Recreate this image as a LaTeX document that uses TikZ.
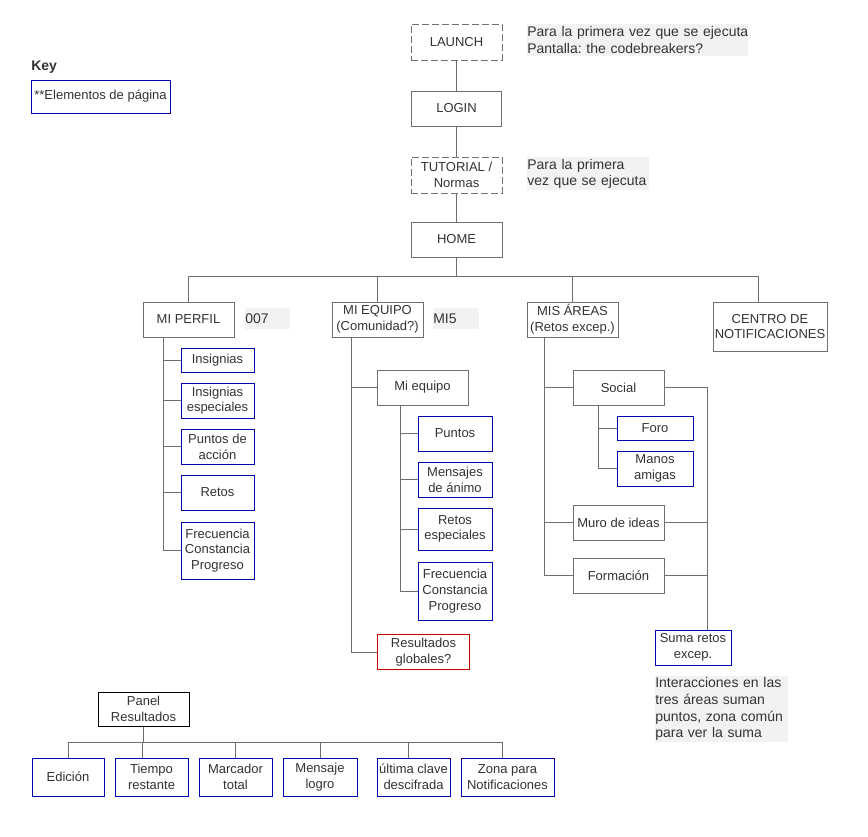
\documentclass[tikz,border=0pt]{standalone}
\usepackage{fontspec}
\setmainfont{Liberation Sans}
\usetikzlibrary{calc,backgrounds}
\definecolor{txt}{HTML}{333333}
\definecolor{bd}{HTML}{707070}
\definecolor{ln}{HTML}{6E6E6E}
\definecolor{bl}{HTML}{0000B0}
\definecolor{rd}{HTML}{D00000}
\definecolor{nbg}{HTML}{F2F2F2}
\frenchspacing
\begin{document}
\frenchspacing
\begin{tikzpicture}[x=0.75pt,y=-0.75pt,
  every node/.style={text=txt, inner sep=0pt, font=\frenchspacing\fontsize{9.75}{11.8}\selectfont, align=center},
  box/.style={draw=bd, line width=0.75pt, fill=white},
  bbox/.style={draw=bl, line width=0.75pt, fill=white},
  rbox/.style={draw=rd, line width=0.9pt, fill=white},
  dbox/.style={draw=bd, line width=0.75pt, dash pattern=on 5pt off 2.5pt, fill=white},
  sz/.style 2 args={minimum width=#1*0.75pt, minimum height=#2*0.75pt},
  note/.style 2 args={fill=nbg, anchor=north west, align=left, text width=#1, minimum height=#2*0.75pt, font=\frenchspacing\fontsize{10.5}{12.5}\selectfont},
  conn/.style={draw=ln, line width=0.75pt}]
\useasboundingbox (0,0) rectangle (868,836);

% key
\node[anchor=west, font=\bfseries\fontsize{10.5}{12.5}\selectfont] (key) at (31,67) {Key};
\node[bbox, sz={139}{33}] (keybox) at (100.5,96.5) {**Elementos de página};

% top chain
\node[dbox, sz={91}{36}] (launch) at (456.5,42) {LAUNCH};
\node[box, sz={90}{35}] (login) at (456.5,108.5) {LOGIN};
\node[dbox, sz={91}{36}] (tutorial) at (456.5,175) {TUTORIAL /\\Normas};
\node[box, sz={91}{35}] (home) at (456.5,239.5) {HOME};
\node[note={165.75pt}{32}] (n1) at (527,24) {Para la primera vez que se ejecuta\\Pantalla: the codebreakers?};
\node[note={91.5pt}{33}] (n2) at (527,157) {Para la primera\\vez que se ejecuta};

% level 1
\node[box, sz={91}{35}] (perfil) at (188.5,319.5) {MI PERFIL};
\node[note={33.75pt}{21}] (n007) at (245,308) {007};
\node[box, sz={91}{35}] (equipo) at (377.5,319.5) {MI EQUIPO\\(Comunidad?)};
\node[note={34.5pt}{21}] (nmi5) at (433,308) {MI5};
\node[box, sz={91}{35}] (areas) at (572.5,319.5) {MIS ÁREAS\\(Retos excep.)};
\node[box, sz={114}{49}] (centro) at (770,326.5) {CENTRO DE\\NOTIFICACIONES};

% mi perfil children
\node[bbox, sz={73}{24}] (ins) at (217.5,360) {Insignias};
\node[bbox, sz={73}{35}] (insesp) at (217.5,400.5) {Insignias\\especiales};
\node[bbox, sz={73}{35}] (puntosacc) at (217.5,446.5) {Puntos de\\acción};
\node[bbox, sz={73}{35}] (retos) at (217.5,492.5) {Retos};
\node[bbox, sz={73}{57}] (frec1) at (217.5,550.5) {Frecuencia\\Constancia\\Progreso};

% mi equipo children
\node[box, sz={91}{35}] (miequipo) at (422.5,387.5) {Mi equipo};
\node[bbox, sz={74}{35}] (puntos) at (455,433.5) {Puntos};
\node[bbox, sz={74}{35}] (mensajes) at (455,479.5) {Mensajes\\de ánimo};
\node[bbox, sz={74}{42}] (retosesp) at (455,529) {Retos\\especiales};
\node[bbox, sz={74}{58}] (frec2) at (455,591) {Frecuencia\\Constancia\\Progreso};
\node[rbox, sz={92}{35}] (resglob) at (423.5,652) {Resultados\\globales?};

% mis areas children
\node[box, sz={91}{35}] (social) at (618.5,387.5) {Social};
\node[bbox, sz={76}{24}] (foro) at (655,428) {Foro};
\node[bbox, sz={76}{35}] (manos) at (655,468.5) {Manos\\amigas};
\node[box, sz={91}{35}] (muro) at (618.5,522.5) {Muro de ideas};
\node[box, sz={91}{35}] (formacion) at (618.5,575.5) {Formación};
\node[bbox, sz={76}{35}] (suma) at (693,647.5) {Suma retos\\excep.};
\node[note={99.75pt}{66}] (n3) at (655,676) {Interacciones en las\\tres áreas suman\\puntos, zona común\\para ver la suma};

% panel
\node[draw=black, line width=0.75pt, sz={91}{34}] (panel) at (143.5,709) {Panel\\Resultados};
\node[bbox, sz={72}{38}] (edicion) at (68,777) {Edición};
\node[bbox, sz={73}{38}] (tiempo) at (151.5,777) {Tiempo\\restante};
\node[bbox, sz={73}{38}] (marcador) at (235.5,777) {Marcador\\total};
\node[bbox, sz={74}{38}] (mensaje) at (320,777) {Mensaje\\logro};
\node[bbox, sz={73}{38}] (ultima) at (413.5,777) {última clave\\descifrada};
\node[bbox, sz={93}{38}] (zona) at (507.5,777) {Zona para\\Notificaciones};

\begin{scope}[on background layer]
% connectors: top chain
\draw[conn] (launch) -- (login);
\draw[conn] (login) -- (tutorial);
\draw[conn] (tutorial) -- (home);
\coordinate (bus) at ([yshift=-14.25pt]home.south);
\coordinate (cin) at ([xshift=-9pt]centro.north);
\draw[conn] (home.south) -- (bus);
\draw[conn] (perfil.north) |- (bus) -| (cin);
\draw[conn] (equipo.north) -- (equipo.north |- bus);
\draw[conn] (areas.north) -- (areas.north |- bus);

% mi perfil
\coordinate (pt) at ([xshift=15.75pt]perfil.south west);
\draw[conn] (pt) |- (frec1.west);
\foreach \n in {ins,insesp,puntosacc,retos} \draw[conn] (\n.west) -- (\n.west -| pt);

% mi equipo
\coordinate (et) at ([xshift=15pt]equipo.south west);
\draw[conn] (et) |- (resglob.west);
\draw[conn] (miequipo.west) -- (miequipo.west -| et);
\coordinate (mt) at ([xshift=18pt]miequipo.south west);
\draw[conn] (mt) |- (frec2.west);
\foreach \n in {puntos,mensajes,retosesp} \draw[conn] (\n.west) -- (\n.west -| mt);

% mis areas
\coordinate (at) at ([xshift=13.5pt]areas.south west);
\draw[conn] (at) |- (formacion.west);
\foreach \n in {social,muro} \draw[conn] (\n.west) -- (\n.west -| at);
\coordinate (st) at ([xshift=19.5pt]social.south west);
\draw[conn] (st) |- (manos.west);
\draw[conn] (foro.west) -- (foro.west -| st);
\coordinate (sin) at ([xshift=39.75pt]suma.north west);
\draw[conn] (social.east) -| (sin);
\draw[conn] (muro.east) -- (muro.east -| sin);
\draw[conn] (formacion.east) -- (formacion.east -| sin);

% panel
\coordinate (pbus) at ([yshift=-12pt]panel.south);
\coordinate (tin) at ([xshift=21pt]tiempo.north west);
\coordinate (uin) at ([xshift=24pt]ultima.north west);
\coordinate (zin) at ([xshift=31.5pt]zona.north west);
\draw[conn] (panel.south) -- (pbus);
\draw[conn] (edicion.north) |- (pbus) -| (zin);
\draw[conn] (tin) -- (tin |- pbus);
\draw[conn] (marcador.north) -- (marcador.north |- pbus);
\draw[conn] (mensaje.north) -- (mensaje.north |- pbus);
\draw[conn] (uin) -- (uin |- pbus);
\end{scope}
\end{tikzpicture}
\end{document}
